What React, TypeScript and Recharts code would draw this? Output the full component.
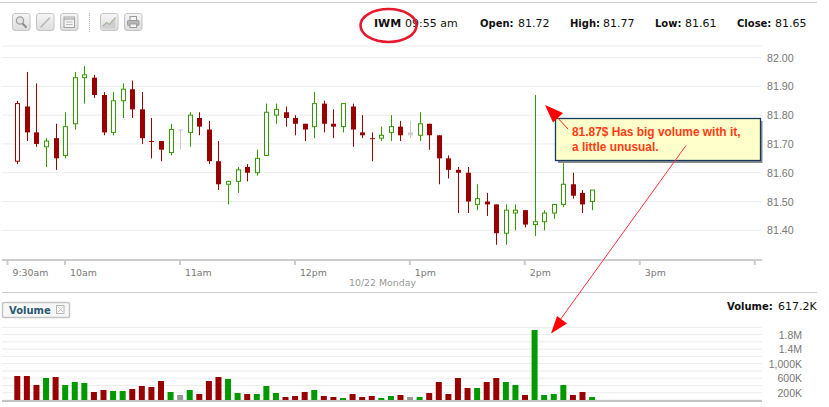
import { Bar, CartesianGrid, Cell, ComposedChart, XAxis, YAxis } from 'recharts'

// minutes after 9:30, one bar every 5 minutes
const minutes = [
  5, 10, 15, 20, 25, 30, 35, 40, 45, 50, 55, 60, 65, 70, 75, 80, 85, 90, 95, 100,
  105, 110, 115, 120, 125, 130, 135, 140, 145, 150, 155, 160, 165, 170, 175, 180, 185, 190, 195, 200,
  205, 210, 215, 220, 225, 230, 235, 240, 245, 250, 255, 260, 265, 270, 275, 280, 285, 290, 295, 300,
  305,
]
const opens = [
  81.64, 81.83, 81.74, 81.69, 81.72, 81.66, 81.77, 81.93, 81.93, 81.87, 81.74, 81.85, 81.89, 81.82, 81.71, 81.71, 81.67, 81.75, 81.74, 81.79,
  81.75, 81.64, 81.56, 81.57, 81.62, 81.6, 81.66, 81.8, 81.81, 81.79, 81.77, 81.76, 81.84, 81.77, 81.76, 81.83, 81.74, 81.72, 81.72, 81.74,
  81.76, 81.73, 81.73, 81.77, 81.73, 81.65, 81.61, 81.6, 81.49, 81.5, 81.49, 81.39, 81.46, 81.47, 81.42, 81.43, 81.46, 81.49, 81.56, 81.53,
  81.5,
]
const highs = [
  81.85, 81.95, 81.91, 81.72, 81.77, 81.81, 81.95, 81.97, 81.94, 81.88, 81.88, 81.91, 81.92, 81.88, 81.79, 81.71, 81.77, 81.75, 81.81, 81.81,
  81.78, 81.71, 81.57, 81.62, 81.63, 81.68, 81.84, 81.84, 81.83, 81.8, 81.77, 81.88, 81.85, 81.82, 81.84, 81.84, 81.8, 81.74, 81.76, 81.8,
  81.78, 81.78, 81.81, 81.77, 81.73, 81.66, 81.62, 81.62, 81.56, 81.53, 81.49, 81.49, 81.49, 81.47, 81.87, 81.47, 81.49, 81.72, 81.6, 81.54,
  81.54,
]
const lows = [
  81.63, 81.71, 81.69, 81.62, 81.61, 81.65, 81.75, 81.84, 81.86, 81.73, 81.73, 81.79, 81.79, 81.7, 81.65, 81.64, 81.66, 81.68, 81.69, 81.73,
  81.63, 81.54, 81.49, 81.53, 81.57, 81.59, 81.66, 81.77, 81.76, 81.73, 81.71, 81.72, 81.74, 81.72, 81.74, 81.69, 81.72, 81.64, 81.71, 81.71,
  81.71, 81.72, 81.71, 81.68, 81.56, 81.58, 81.46, 81.46, 81.47, 81.45, 81.35, 81.35, 81.4, 81.41, 81.38, 81.4, 81.44, 81.48, 81.51, 81.46,
  81.47,
]
const closes = [
  81.84, 81.74, 81.7, 81.71, 81.65, 81.76, 81.93, 81.94, 81.87, 81.74, 81.85, 81.89, 81.82, 81.72, 81.71, 81.68, 81.75, 81.75, 81.8, 81.76,
  81.64, 81.56, 81.57, 81.61, 81.6, 81.65, 81.81, 81.82, 81.79, 81.77, 81.75, 81.84, 81.77, 81.76, 81.84, 81.75, 81.73, 81.72, 81.73, 81.76,
  81.73, 81.74, 81.77, 81.73, 81.65, 81.61, 81.6, 81.5, 81.51, 81.49, 81.39, 81.47, 81.47, 81.42, 81.43, 81.46, 81.49, 81.56, 81.52, 81.49,
  81.54,
]
// volume in thousands
const volumes = [
  660, 660, 413, 605, 633, 413, 495, 468, 220, 275, 248, 248, 303, 385, 358, 523, 220, 138, 275, 165,
  523, 633, 578, 193, 165, 165, 385, 193, 83, 110, 220, 275, 110, 83, 55, 165, 83, 110, 55, 110,
  138, 83, 83, 193, 495, 165, 605, 330, 330, 495, 605, 495, 413, 138, 1927, 138, 165, 413, 138, 220,
  83,
]
const volumeSides = [
  'down', 'down', 'down', 'up', 'down', 'up', 'up', 'up', 'down', 'down', 'up', 'up', 'down', 'down', 'down', 'down', 'up', 'flat', 'up', 'down',
  'down', 'down', 'up', 'up', 'down', 'up', 'up', 'up', 'down', 'down', 'down', 'up', 'down', 'down', 'up', 'down', 'down', 'down', 'up', 'up',
  'down', 'flat', 'up', 'down', 'down', 'down', 'down', 'down', 'up', 'down', 'down', 'up', 'up', 'down', 'up', 'up', 'up', 'up', 'down', 'down',
  'up',
]
// bars the source draws in light grey
const flatBars = [17, 41]

const timeTicks = [0, 30, 90, 150, 210, 270, 330, 390]
const timeLabels = ['9:30am', '10am', '11am', '12pm', '1pm', '2pm', '3pm', '']
const priceTicks = [81.4, 81.5, 81.6, 81.7, 81.8, 81.9, 82]
const volumeTicks = [200, 400, 600, 800, 1000, 1200, 1400, 1600, 1800, 2000]
const volumeLabels: Record<number, string> = { 200: '200K', 600: '600K', 1000: '1,000K', 1400: '1.4M', 1800: '1.8M' }

const candles = minutes.map((t, i) => ({
  t,
  index: i,
  open: opens[i],
  high: highs[i],
  low: lows[i],
  close: closes[i],
  range: [lows[i], highs[i]],
}))
const volumeRows = minutes.map((t, i) => ({ t, volume: volumes[i] }))

const RED = '#990000'
const GREEN = '#339900'
const SIDE_COLORS: Record<string, string> = { up: '#009900', down: '#990000', flat: '#999999' }
const SANS = '"Liberation Sans", Arial, sans-serif'
const VERDANA = '"DejaVu Sans", Verdana, sans-serif'

const xDomain = [-2.87, 393.8]

function CandleShape(props: any) {
  const { x, y, width, height, payload } = props
  const cx = Math.round(x + width / 2) + 0.5
  const pxPerPrice = Math.abs(height) / (payload.high - payload.low)
  const toY = (price: number) => y + (payload.high - price) * pxPerPrice
  const isFlat = flatBars.includes(payload.index)
  const isUp = payload.close > payload.open
  const color = isFlat ? '#cccccc' : isUp && payload.index !== 0 ? GREEN : RED
  const hollow = isUp && !isFlat
  const top = toY(Math.max(payload.open, payload.close))
  const bottom = toY(Math.min(payload.open, payload.close))

  return (
    <g>
      <line x1={cx} x2={cx} y1={y} y2={y + Math.abs(height)} stroke={color} strokeWidth={1} />
      {hollow ? (
        <rect x={cx - 2} y={top} width={4} height={bottom - top} fill="#ffffff" stroke={color} strokeWidth={1} />
      ) : (
        <rect x={cx - 2.5} y={top} width={5} height={Math.max(bottom - top, 1)} fill={color} />
      )}
    </g>
  )
}

function TimeTick({ x, y, payload }: any) {
  const label = timeLabels[timeTicks.indexOf(payload.value)]
  return (
    <text x={x + 5} y={y + 9} fontFamily={VERDANA} fontSize={9.4} fill="#777777">
      {label}
    </text>
  )
}

function PriceTick({ y, payload }: any) {
  return (
    <text x={767} y={y + 4} fontFamily={SANS} fontSize={10.7} fill="#777777">
      {payload.value.toFixed(2)}
    </text>
  )
}

function VolumeTick({ y, payload }: any) {
  return (
    <text x={802} y={y + 4} textAnchor="end" fontFamily={SANS} fontSize={10.5} fill="#777777">
      {volumeLabels[payload.value] ?? ''}
    </text>
  )
}

function ToolButton({ x, children }: { x: number; children?: any }) {
  return (
    <g transform={`translate(${x} 13.5)`}>
      <rect x={0} y={0} width={17.5} height={17} rx={2.5} fill="url(#toolFill)" stroke="#c4c4c4" />
      {children}
    </g>
  )
}

function Toolbar() {
  return (
    <g>
      <ToolButton x={12.5}>
        <circle cx={7.5} cy={7} r={3.6} fill="#e4e4e4" stroke="#a0a0a0" strokeWidth={1.3} />
        <line x1={10} y1={10} x2={14} y2={14} stroke="#8a8a8a" strokeWidth={2} />
      </ToolButton>
      <ToolButton x={36.5}>
        <line x1={4} y1={14} x2={13.5} y2={4} stroke="#b8b8b8" strokeWidth={1.6} />
      </ToolButton>
      <ToolButton x={60.5}>
        <rect x={3.5} y={3.5} width={10.5} height={10.5} fill="#f4f4f4" stroke="#a4a4a4" />
        <line x1={3.5} y1={5.5} x2={14} y2={5.5} stroke="#a4a4a4" strokeWidth={1.2} />
        <line x1={5.5} y1={8.5} x2={12} y2={8.5} stroke="#bbbbbb" />
        <line x1={5.5} y1={11} x2={12} y2={11} stroke="#bbbbbb" />
      </ToolButton>
      <line x1={89.5} y1={13} x2={89.5} y2={32} stroke="#b4b4b4" strokeDasharray="1 1" />
      <ToolButton x={100.5}>
        <polygon points="2,14 6,10 9,12 15,5 15,15 2,15" fill="#cfcfcf" />
        <polyline points="2,13 6,9 9,11 15,4" fill="none" stroke="#a8b29e" strokeWidth={1.2} />
      </ToolButton>
      <ToolButton x={124.5}>
        <rect x={5.5} y={3} width={6.5} height={4} fill="#f4f4f4" stroke="#9c9c9c" />
        <rect x={3} y={7} width={11.5} height={5} rx={1} fill="#b8b8b8" stroke="#9c9c9c" />
        <rect x={5.5} y={10.5} width={6.5} height={3.5} fill="#f4f4f4" stroke="#9c9c9c" />
      </ToolButton>
    </g>
  )
}

function HeaderText({ x, y, bold, size, children }: { x: number; y: number; bold?: boolean; size?: number; children: string }) {
  return (
    <text x={x} y={y} fontFamily={VERDANA} fontSize={size ?? 10} fontWeight={bold ? 700 : 400} fill="#111111">
      {children}
    </text>
  )
}

function Overlay() {
  return (
    <svg width={829} height={407} style={{ position: 'absolute', left: 0, top: 0 }}>
      <defs>
        <linearGradient id="toolFill" x1="0" y1="0" x2="0" y2="1">
          <stop offset="0" stopColor="#f6f6f6" />
          <stop offset="1" stopColor="#dcdcdc" />
        </linearGradient>
      </defs>

      <line x1={0} x2={817} y1={2.5} y2={2.5} stroke="#cccccc" />
      <Toolbar />

      <HeaderText x={374} y={27} bold size={11}>IWM</HeaderText>
      <HeaderText x={405} y={27} size={11}>09:55 am</HeaderText>
      <HeaderText x={480} y={27} bold>Open:</HeaderText>
      <HeaderText x={518} y={27} size={11}>81.72</HeaderText>
      <HeaderText x={570} y={27} bold>High:</HeaderText>
      <HeaderText x={603} y={27} size={11}>81.77</HeaderText>
      <HeaderText x={655} y={27} bold>Low:</HeaderText>
      <HeaderText x={685} y={27} size={11}>81.61</HeaderText>
      <HeaderText x={737} y={27} bold>Close:</HeaderText>
      <HeaderText x={775} y={27} size={11}>81.65</HeaderText>
      <ellipse cx={388.5} cy={25.5} rx={28} ry={16.5} fill="none" stroke="#e8182c" strokeWidth={2.6} />

      <line x1={2} x2={817} y1={292.5} y2={292.5} stroke="#cccccc" />
      <text x={349} y={286} fontFamily={VERDANA} fontSize={9.4} fill="#999999">10/22 Monday</text>
      <line x1={2} x2={762} y1={401} y2={401} stroke="#c4c4c4" strokeWidth={2} />

      <rect x={2.5} y={302.5} width={67} height={15} rx={1.5} fill="#f8f8f8" stroke="#c4c4c4" strokeWidth={1.4} />
      <text x={9} y={314} fontFamily={VERDANA} fontSize={10} fontWeight={700} fill="#2b5a70">Volume</text>
      <rect x={56.5} y={305.5} width={7.5} height={8} fill="#ffffff" stroke="#b5b5b5" />
      <path d="M58 307 L63 312 M63 307 L58 312" stroke="#c4c4c4" />
      <HeaderText x={727} y={310} bold>Volume:</HeaderText>
      <HeaderText x={778} y={310} size={11}>617.2K</HeaderText>

      <rect x={558} y={121} width={204.5} height={42} fill="#8c8c8c" />
      <rect x={555.5} y={118.5} width={205} height={42} fill="#ffffcc" stroke="#123a60" strokeWidth={1.3} />
      <text x={572} y={136} fontFamily={SANS} fontSize={11.9} fontWeight={700} fill="#ff3d14">81.87$ Has big volume with it,</text>
      <text x={572} y={151} fontFamily={SANS} fontSize={11.9} fontWeight={700} fill="#ff3d14">a little unusual.</text>

      <line x1={568} y1={129} x2={556} y2={116} stroke="#ff2020" strokeWidth={1} />
      <polygon points="545,105 563,113 553,122.5" fill="#ff0000" />
      <line x1={686} y1={145.5} x2={560} y2={320} stroke="#ff3040" strokeWidth={1} />
      <polygon points="551,333.5 557,316 567,323.5" fill="#ff0000" />
    </svg>
  )
}

export default function App() {
  return (
    <div style={{ position: 'absolute', left: 0, top: 0, width: 829, height: 407, background: '#ffffff', overflow: 'hidden' }}>
      <div style={{ position: 'absolute', left: 0, top: 0 }}>
        <ComposedChart width={829} height={290} data={candles} margin={{ top: 46, right: 0, bottom: 0, left: 2 }}>
          <CartesianGrid vertical={false} stroke="#ececec" strokeWidth={1} />
          <XAxis
            dataKey="t"
            type="number"
            domain={xDomain}
            allowDataOverflow
            ticks={timeTicks}
            interval={0}
            height={30}
            stroke="#cccccc"
            strokeWidth={2}
            tickSize={5}
            tick={<TimeTick />}
          />
          <YAxis
            orientation="right"
            type="number"
            width={67}
            domain={[81.297, 82.04]}
            allowDataOverflow
            ticks={priceTicks}
            interval={0}
            axisLine={false}
            tickLine={false}
            tick={<PriceTick />}
          />
          <Bar dataKey="range" barSize={6} shape={<CandleShape />} isAnimationActive={false} />
        </ComposedChart>
      </div>

      <div style={{ position: 'absolute', left: 0, top: 300 }}>
        <ComposedChart width={829} height={107} data={volumeRows} margin={{ top: 27.3, right: 0, bottom: 0, left: 2 }}>
          <CartesianGrid vertical={false} stroke="#ececec" strokeWidth={1} />
          <XAxis
            dataKey="t"
            type="number"
            domain={xDomain}
            allowDataOverflow
            ticks={timeTicks}
            height={7}
            axisLine={false}
            tick={false}
            tickLine={false}
          />
          <YAxis
            orientation="right"
            type="number"
            width={67}
            domain={[0, 2000]}
            ticks={volumeTicks}
            interval={0}
            axisLine={false}
            tickLine={false}
            tick={<VolumeTick />}
          />
          <Bar dataKey="volume" barSize={6} isAnimationActive={false}>
            {volumeSides.map((side, i) => (
              <Cell key={i} fill={SIDE_COLORS[side]} />
            ))}
          </Bar>
        </ComposedChart>
      </div>

      <Overlay />
    </div>
  )
}
